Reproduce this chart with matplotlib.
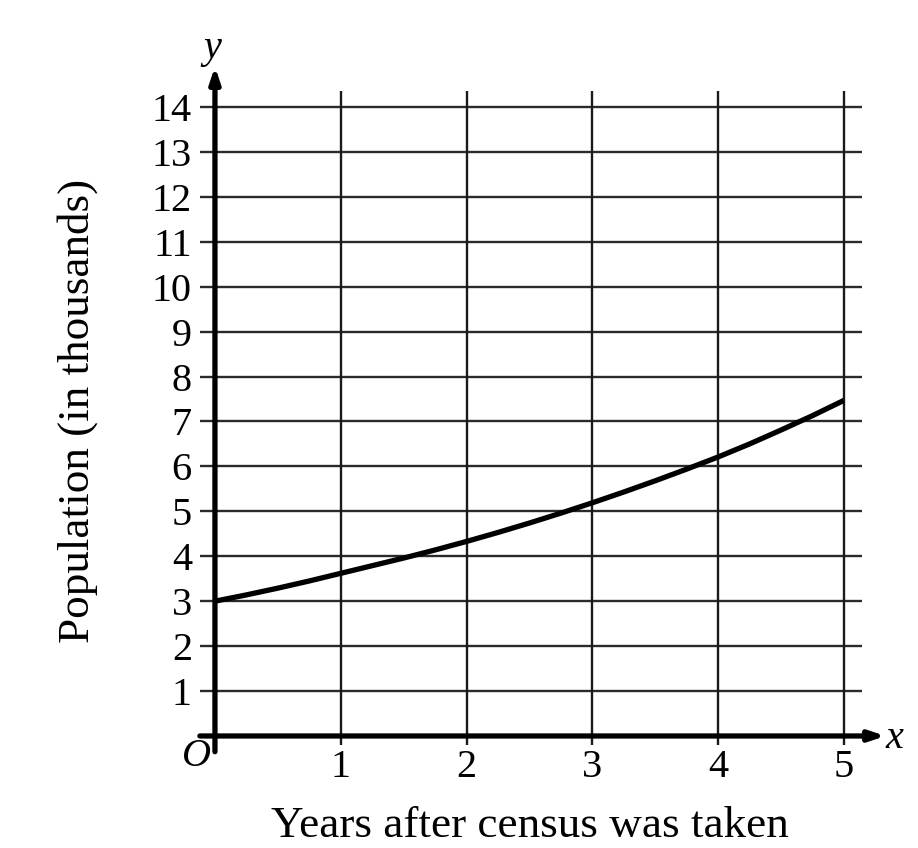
import matplotlib
matplotlib.use("Agg")
import matplotlib.pyplot as plt

# Data
years = [0, 0.25, 0.5, 0.75, 1, 1.25, 1.5, 1.75, 2, 2.25, 2.5,
         2.75, 3, 3.25, 3.5, 3.75, 4, 4.25, 4.5, 4.75, 5]
population = [3.0, 3.14, 3.29, 3.45, 3.62, 3.79, 3.96, 4.14, 4.33, 4.53, 4.74,
              4.96, 5.19, 5.43, 5.68, 5.94, 6.21, 6.50, 6.81, 7.13, 7.47]
x_ticks = [1, 2, 3, 4, 5]
x_tick_labels = ["1", "2", "3", "4", "5"]
y_ticks = list(range(1, 15))
y_tick_labels = [str(v) for v in y_ticks]

SERIF = ["Liberation Serif", "DejaVu Serif"]
FS = 29
LFS = 32.5

fig = plt.figure(figsize=(9.18, 8.48), dpi=100)
ax = fig.add_axes([0.2136, 0.1162, 0.7812, 0.8213])
ax.set_xlim(-0.15, 5.55)
ax.set_ylim(-0.3, 15.2)
for s in ax.spines.values():
    s.set_visible(False)

# grid lines (extend slightly beyond the last values)
ax.hlines(y_ticks, -0.12, 5.14, color="#2a2a2a", lw=1.7, zorder=1)
ax.vlines(x_ticks, -0.2, 14.36, color="#1a1a1a", lw=1.7, zorder=1)

# axes with arrows
ax.annotate("", xy=(5.33, 0), xytext=(-0.12, 0),
            arrowprops=dict(arrowstyle="-|>,head_length=0.9,head_width=0.3",
                            lw=3.8, color="black", shrinkA=0, shrinkB=0), zorder=3)
ax.annotate("", xy=(0, 14.9), xytext=(0, -0.35),
            arrowprops=dict(arrowstyle="-|>,head_length=0.9,head_width=0.3",
                            lw=3.8, color="black", shrinkA=0, shrinkB=0), zorder=3)

# curve
ax.plot(years, population, color="black", lw=3.8, solid_capstyle="butt",
        solid_joinstyle="round", zorder=4)

# tick labels
ax.set_xticks(x_ticks)
ax.set_xticklabels(x_tick_labels, family=SERIF, fontsize=FS)
ax.set_yticks(y_ticks)
ax.set_yticklabels(y_tick_labels, family=SERIF, fontsize=FS)
ax.tick_params(axis="both", length=0)
ax.tick_params(axis="x", pad=0)
ax.tick_params(axis="y", pad=3)

# origin and axis letters
ax.text(-0.15, -0.45, "O", family=SERIF, style="italic", fontsize=FS,
        ha="center", va="center")
ax.text(5.4, -0.05, "x", family=SERIF, style="italic", fontsize=FS,
        ha="center", va="center")
ax.text(-0.02, 15.3, "y", family=SERIF, style="italic", fontsize=FS,
        ha="center", va="center", clip_on=False)

fig.text(530 / 918, 1 - 826 / 848, "Years after census was taken",
         family=SERIF, fontsize=LFS, ha="center", va="center")
fig.text(78 / 918, 1 - 411 / 848, "Population (in thousands)",
         family=SERIF, fontsize=LFS, ha="center", va="center", rotation=90)

fig.savefig("out.png", dpi=100, facecolor="white")
